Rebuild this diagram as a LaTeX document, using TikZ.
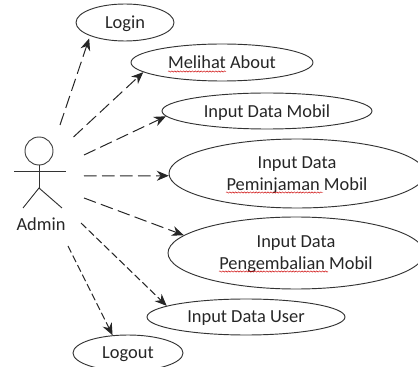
\documentclass[tikz,border=0pt]{standalone}
\usepackage{fontspec}
\setmainfont{Carlito}
\usetikzlibrary{shapes.geometric,arrows.meta,decorations.pathmorphing}
\tikzset{
    usecase/.style={ellipse, draw=black!80, line width=0.7pt, inner sep=0pt, text=black!85, align=center, text depth=0pt, font=\fontsize{13.8}{16.5}\selectfont},
    relasi/.style={-{Stealth[length=9pt,width=7.5pt]}, line width=0.75pt, draw=black!85, dash pattern=on 9.5pt off 4pt},
    relasirapat/.style={relasi, dash pattern=on 5.5pt off 2.5pt},
    squiggle/.style={draw=red!80!black, line width=0.35pt, decorate, decoration={snake, segment length=2.2pt, amplitude=0.5pt}}
}
\begin{document}
\begin{tikzpicture}[x=0.75pt, y=-0.75pt]
    \useasboundingbox (0,0) rectangle (418,367);
    % Use cases
    \node[usecase, minimum width=73.5pt, minimum height=27.75pt] (login) at (125,22.5) {Login};
    \node[usecase, minimum width=136.5pt, minimum height=27.75pt] (about) at (222,62.5) {Melihat About};
    \node[usecase, minimum width=157.5pt, minimum height=27pt] (mobil) at (267,111) {Input Data Mobil};
    \node[usecase, minimum width=192pt, minimum height=51.75pt] (pinjam) at (297,173.5) {Input Data\\Peminjaman Mobil};
    \node[usecase, minimum width=192pt, minimum height=54pt] (kembali) at (296,253) {Input Data\\Pengembalian Mobil};
    \node[usecase, minimum width=148.5pt, minimum height=27pt] (user) at (246,317) {Input Data User};
    \node[usecase, minimum width=82.5pt, minimum height=27pt] (logout) at (128,353) {Logout};
    % Spelling marks
    \draw[squiggle] (168,71.5) -- (226,71.5);
    \draw[squiggle] (226,192.5) -- (323,192.5);
    \draw[squiggle] (219,271.5) -- (328,271.5);
    % Actor
    \node[circle, draw=black!75, line width=0.7pt, minimum size=21pt, inner sep=0pt] (kepala) at (39,151) {};
    \coordinate (pinggul) at (39,188);
    \coordinate (tanganA) at (14,171);
    \coordinate (tanganB) at (66,171);
    \coordinate (kakiA) at (23,208);
    \coordinate (kakiB) at (62,208);
    \draw[line width=0.7pt, black!80] (kepala.south) -- (pinggul);
    \draw[line width=0.7pt, black!80] (tanganA) -- (tanganB);
    \draw[line width=0.7pt, black!80] (kakiA) -- (pinggul) -- (kakiB);
    \node[text=black!85, text depth=0pt, font=\fontsize{13.8}{15}\selectfont] (admin) at (41,224) {Admin};
    % Relations
    \coordinate (a1) at (60,125);
    \coordinate (a2) at (73.5,137);
    \coordinate (a3) at (84,155);
    \coordinate (a4) at (84,176);
    \coordinate (a5) at (84,198);
    \coordinate (a6) at (81,223);
    \coordinate (a7) at (68,246);
    \draw[relasi, shorten >=2pt] (a1) -- (login.south west);
    \draw[relasi] (a2) -- (about.187.3);
    \draw[relasi] (a3) -- (mobil.183);
    \draw[relasi] (a4) -- (pinjam.181);
    \draw[relasi] (a5) -- (kembali.171.8);
    \draw[relasirapat] (a6) -- (user.172.2);
    \draw[relasirapat] (a7) -- (logout.131);
\end{tikzpicture}
\end{document}
